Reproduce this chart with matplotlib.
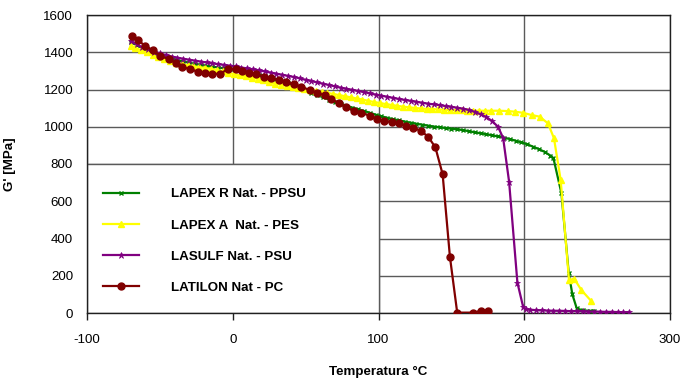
import matplotlib
matplotlib.use("Agg")
import matplotlib.pyplot as plt
from matplotlib.patches import Rectangle

plt.rcParams['font.family'] = ['Liberation Sans', 'DejaVu Sans']
plt.rcParams['axes.unicode_minus'] = False

# ---------------- data ----------------
ppsu_T = [-70, -66, -62, -58, -54, -50, -46, -42, -38, -34, -30, -26, -22, -18, -14, -10,
          -6, -2, 2, 6, 10, 14, 18, 22, 26, 30, 34, 38, 42, 46, 50, 54, 58, 62, 66, 70,
          74, 78, 82, 86, 90, 94, 98, 102, 106, 110, 114, 118, 122, 126, 130, 134, 138,
          142, 146, 150, 154, 158, 162, 166, 170, 174, 178, 182, 186, 190, 194, 198, 202,
          206, 210, 214, 218, 220, 225.5, 230.5, 233, 236, 240, 245, 248]
ppsu_G = [1455, 1438, 1422, 1408, 1396, 1385, 1375, 1366, 1358, 1350, 1344, 1338, 1333, 1328,
          1323, 1318, 1314, 1310, 1305, 1299, 1293, 1287, 1280, 1272, 1264, 1255, 1246, 1237,
          1226, 1213, 1198, 1183, 1170, 1158, 1146, 1135, 1124, 1113, 1103, 1094, 1085, 1075,
          1065, 1056, 1048, 1041, 1034, 1028, 1022, 1016, 1011, 1006, 1001, 997, 993, 990,
          986, 982, 976, 970, 965, 960, 954, 948, 942, 934, 925, 916, 906, 893, 880, 865,
          845, 832, 643, 216, 100, 25, 14, 12, 12]

pes_T = [-70, -67, -63, -59, -55, -51, -47, -43, -39, -35, -31, -27, -23, -19, -15, -11, -7,
         -3, 1, 5, 9, 13, 17, 21, 25, 29, 33, 37, 41, 45, 49, 53, 57, 61, 65, 69, 73, 77,
         81, 85, 89, 93, 97, 101, 105, 109, 113, 117, 121, 125, 129, 133, 137, 141, 145,
         149, 153, 157, 161, 165, 169, 173, 177, 183, 189, 193.5, 199, 205, 210.6, 216.3,
         220.4, 225, 230.7, 234.3, 239.2, 246]
pes_G = [1435, 1425, 1410, 1400, 1385, 1372, 1362, 1352, 1343, 1336, 1330, 1325, 1320, 1316,
         1311, 1305, 1298, 1290, 1282, 1276, 1270, 1264, 1258, 1250, 1240, 1232, 1226, 1220,
         1214, 1208, 1203, 1198, 1193, 1187, 1182, 1176, 1170, 1164, 1158, 1152, 1146, 1139,
         1133, 1127, 1122, 1117, 1112, 1108, 1104, 1101, 1098, 1096, 1095, 1093, 1091, 1090,
         1089, 1088, 1087, 1086, 1086, 1086, 1086, 1086, 1084, 1081, 1075, 1063, 1054, 1018,
         938, 714, 177, 184, 123, 64]

psu_T = [-70, -66, -62, -58, -54, -50, -46, -42, -38, -34, -30, -26, -22, -18, -14, -10, -6,
         -2, 2, 6, 10, 14, 18, 22, 26, 30, 34, 38, 42, 46, 50, 54, 58, 62, 66, 70, 74, 78,
         82, 86, 90, 94, 98, 102, 106, 110, 114, 118, 122, 126, 130, 134, 138, 142, 146,
         150, 154, 158, 162, 166, 170, 174, 178, 182, 185.5, 189.6, 195.3, 199.2, 201, 204,
         208, 212, 216, 220, 224, 228, 232, 236, 240, 244, 248, 252, 256, 260, 264, 268, 272]
psu_G = [1462, 1442, 1427, 1415, 1404, 1394, 1385, 1377, 1371, 1365, 1360, 1355, 1350, 1345,
         1340, 1336, 1332, 1328, 1324, 1318, 1313, 1308, 1303, 1297, 1291, 1285, 1279, 1273,
         1267, 1260, 1252, 1245, 1238, 1231, 1224, 1217, 1210, 1204, 1198, 1192, 1186, 1179,
         1173, 1167, 1161, 1155, 1149, 1144, 1139, 1134, 1129, 1124, 1120, 1116, 1111, 1107,
         1102, 1097, 1090, 1080, 1067, 1052, 1030, 1000, 940, 705, 163, 34, 20, 18, 15, 14,
         13, 12, 12, 11, 10, 10, 9, 8, 8, 7, 6, 6, 5, 4, 4]

pc_T = [-69, -65, -60.4, -55, -49.6, -44, -39, -35, -29, -24, -19, -14, -9, -3, 2, 6.6, 11.2,
        15.8, 21.3, 26.5, 31.8, 36.8, 42, 47, 52.8, 57.8, 63, 67.7, 73, 78, 83, 88.3, 94,
        99, 104, 109, 114, 119, 124, 129, 134, 139, 144, 149, 154, 165, 170, 175]
pc_G = [1489, 1466, 1435, 1412, 1380, 1364, 1341, 1322, 1308, 1296, 1290, 1284, 1284, 1310,
        1310, 1301, 1291, 1284, 1269, 1260, 1251, 1238, 1228, 1215, 1197, 1183, 1168, 1149,
        1126, 1104, 1086, 1075, 1059, 1043, 1032, 1024, 1018, 1004, 995, 978, 947, 890, 745,
        302, 2, 2, 11, 11]

labels = ["LAPEX R Nat. - PPSU", "LAPEX A  Nat. - PES", "LASULF Nat. - PSU", "LATILON Nat - PC"]
x_ticks = [-100, 0, 100, 200, 300]
y_ticks = [0, 200, 400, 600, 800, 1000, 1200, 1400, 1600]

# ---------------- figure ----------------
fig = plt.figure(figsize=(6.8, 3.78), dpi=100)
ax = fig.add_axes([87/680, 1-313/378, 583/680, 298/378])

FS = 9.6
grid_c = '#5a5a5a'

series = [
    (ppsu_T, ppsu_G, '#008000', 'x', 3.5, 1.0),
    (pes_T, pes_G, '#FFFF00', '^', 5.0, 1.0),
    (psu_T, psu_G, '#800080', '*', 4.5, 0.5),
    (pc_T, pc_G, '#800000', 'o', 5.0, 1.0),
]
handles = []
for (T, G, c, m, ms, mew), lab in zip(series, labels):
    ln, = ax.plot(T, G, color=c, lw=1.6, marker=m, ms=ms, mec=c, mfc=c,
                  mew=mew, zorder=3, label=lab)
    handles.append(ln)

ax.set_xlim(-100, 300)
ax.set_ylim(0, 1600)
ax.set_xticks(x_ticks)
ax.set_yticks(y_ticks)
ax.set_axisbelow(True)
ax.grid(True, color=grid_c, lw=1.0)

# white legend panel (covers grid in lower-left area)
ax.add_patch(Rectangle((-100, 0), 200, 800, facecolor='white', edgecolor=grid_c,
                       lw=1.0, zorder=1))

for s in ax.spines.values():
    s.set_color('#202020')
    s.set_linewidth(1.0)

ax.tick_params(axis='x', direction='out', length=5, width=1, color='#202020',
               labelsize=FS, pad=10)
ax.tick_params(axis='y', direction='out', length=0, labelsize=FS, pad=10)

ax.set_xlabel("Temperatura °C", fontsize=FS, fontweight='bold')
ax.xaxis.set_label_coords(0.5, -(366-313)/298)
ax.xaxis.label.set_va('top')
ax.set_ylabel("G' [MPa]", fontsize=FS, fontweight='bold')
ax.yaxis.set_label_coords(-(87-16)/583, 0.5)

leg = ax.legend(handles=handles, loc='upper left',
                bbox_to_anchor=((103-87)/583, (313-188)/298),
                frameon=False, borderpad=0, handlelength=2.7, handletextpad=2.4,
                labelspacing=1.42, prop={'size': FS, 'weight': 'bold'}, borderaxespad=0)
leg.set_zorder(5)

fig.savefig("out.png", dpi=100)
